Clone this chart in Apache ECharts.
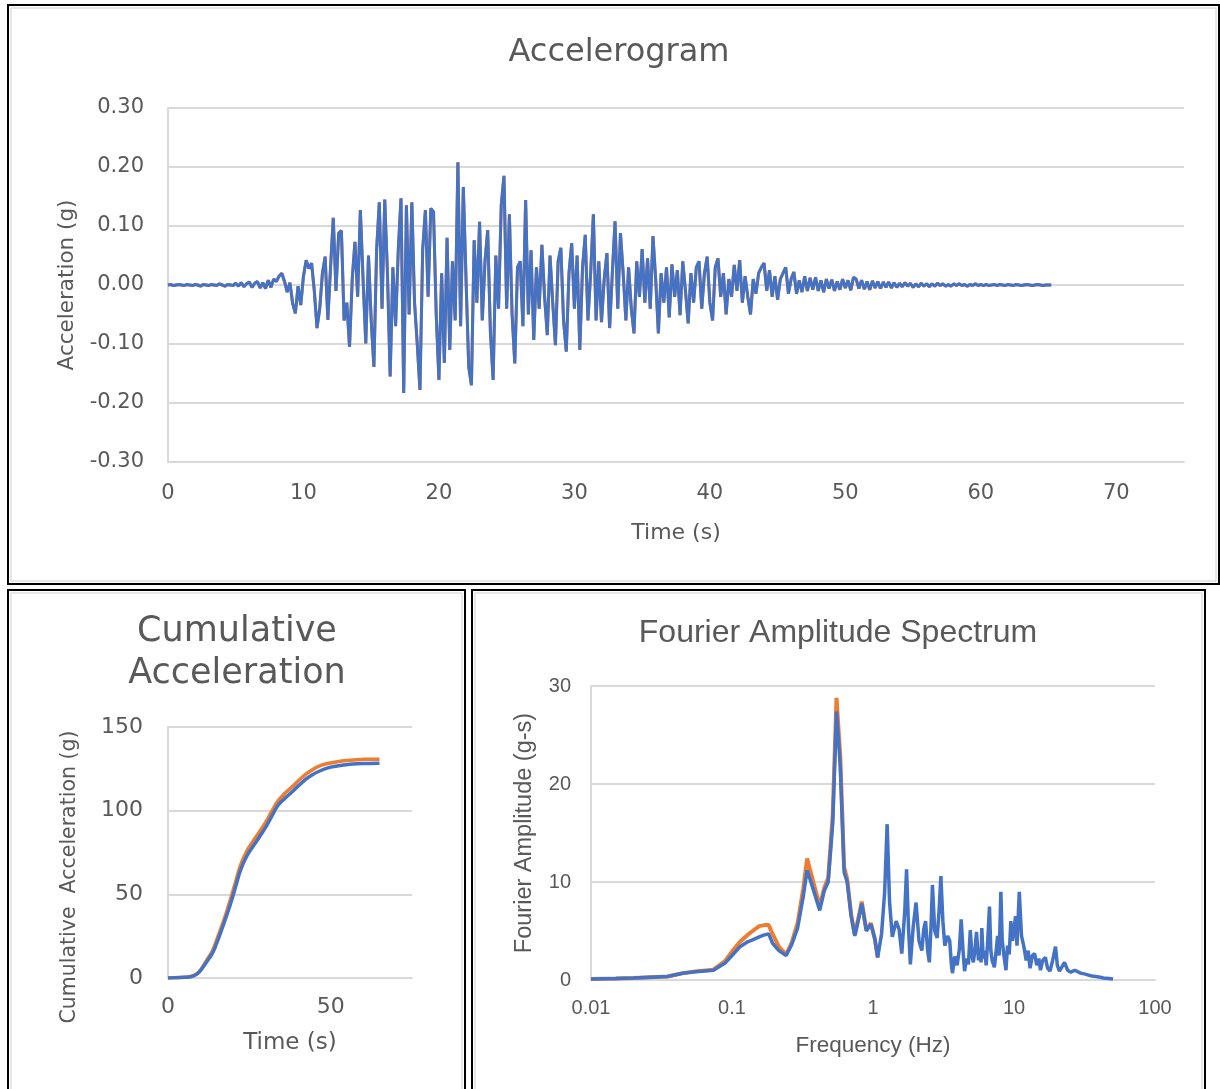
<!DOCTYPE html>
<html>
<head>
<meta charset="utf-8">
<title>Accelerogram</title>
<script src="https://cdn.jsdelivr.net/npm/echarts@6/dist/echarts.min.js"></script>
<style>
  html, body { margin: 0; padding: 0; background: #fff; }
  #chart { width: 1220px; height: 1089px; }
</style>
</head>
<body>
<div id="chart"></div>
<script>
// accelerogram, one sample every 0.2 s
const accelStep = 0.2;
const accelValues = [
  0.000, 0.001, -0.001, 0.000, 0.001,
  0.000, -0.001, 0.001, 0.000, -0.001,
  0.001, 0.000, -0.002, 0.001, 0.000,
  -0.001, 0.001, 0.000, -0.001, 0.002,
  0.000, -0.002, 0.001, 0.000, -0.001,
  0.003, -0.002, 0.004, -0.003, 0.002,
  0.005, -0.004, 0.003, 0.006, -0.005,
  0.004, -0.006, 0.008, -0.004, 0.010,
  0.006, 0.015, 0.020, 0.006, -0.012,
  0.004, -0.031, -0.048, -0.002, -0.034,
  0.015, 0.042, 0.028, 0.037, -0.010,
  -0.073, -0.040, 0.020, 0.048, -0.059,
  0.030, 0.114, -0.010, 0.088, 0.092,
  -0.060, -0.030, -0.105, 0.010, 0.073,
  -0.020, 0.127, 0.010, -0.099, 0.050,
  -0.060, -0.139, 0.060, 0.140, -0.040,
  0.145, 0.020, -0.155, 0.030, -0.070,
  0.060, 0.147, -0.183, 0.135, -0.050,
  0.140, -0.030, -0.100, -0.178, 0.060,
  0.127, -0.020, 0.130, 0.124, -0.050,
  -0.161, 0.020, -0.132, 0.080, -0.110,
  0.040, -0.060, 0.208, -0.070, 0.166,
  0.010, -0.139, -0.170, 0.076, -0.030,
  0.107, -0.060, 0.040, 0.093, -0.080,
  -0.161, 0.050, -0.040, 0.135, 0.185,
  -0.040, 0.120, -0.050, -0.133, 0.030,
  0.040, -0.070, 0.144, -0.050, 0.059,
  -0.093, 0.030, -0.040, 0.068, -0.020,
  -0.085, 0.050, -0.030, -0.102, 0.040,
  0.063, -0.060, -0.113, 0.020, 0.071,
  -0.040, 0.050, -0.110, 0.030, 0.085,
  -0.060, 0.020, 0.120, -0.060, 0.040,
  -0.063, 0.010, 0.054, -0.073, 0.020,
  0.108, -0.040, 0.088, 0.020, -0.060,
  0.030, -0.040, -0.082, 0.040, -0.020,
  0.061, -0.030, 0.045, -0.040, 0.083,
  0.010, -0.082, 0.020, -0.030, 0.030,
  -0.055, 0.035, -0.020, 0.025, -0.051,
  0.040, -0.010, -0.065, 0.020, -0.030,
  0.030, 0.040, -0.040, 0.020, 0.048,
  -0.030, -0.060, 0.030, 0.045, -0.020,
  0.020, -0.050, 0.010, -0.020, 0.034,
  -0.010, 0.042, -0.030, 0.015, -0.020,
  -0.050, 0.010, -0.015, 0.020, 0.030,
  0.037, -0.010, 0.025, -0.020, 0.015,
  -0.025, 0.010, 0.020, 0.030, -0.015,
  0.010, 0.022, -0.015, 0.008, -0.012,
  0.015, -0.010, 0.012, -0.008, 0.013,
  -0.010, 0.008, -0.012, 0.010, -0.006,
  0.009, -0.010, 0.006, -0.008, 0.010,
  -0.005, 0.008, -0.009, 0.013, 0.010,
  -0.006, 0.008, -0.007, 0.006, -0.008,
  0.007, -0.005, 0.006, -0.006, 0.005,
  -0.004, 0.005, -0.005, 0.004, -0.004,
  0.003, -0.003, 0.004, -0.002, 0.003,
  -0.004, 0.002, -0.003, 0.003, -0.002,
  0.002, -0.003, 0.002, -0.002, 0.003,
  -0.001, 0.002, -0.002, 0.001, -0.002,
  0.002, -0.001, 0.002, -0.001, 0.001,
  -0.002, 0.001, -0.001, 0.002, -0.001,
  0.001, -0.001, 0.001, -0.001, 0.000,
  0.001, -0.001, 0.001, 0.000, -0.001,
  0.001, 0.000, -0.001, 0.001, 0.000,
  -0.001, 0.000, 0.001, 0.000, -0.001,
  0.000, 0.001, 0.000, -0.001, 0.000,
  0.000, 0.000
];

// cumulative acceleration
const cumTime = [0, 4, 7, 9, 10.6, 12, 13.7, 15, 16.8, 18.5, 19.8, 21, 22.3, 24, 25.9, 28, 30, 32, 33.9, 36, 38, 41, 44, 47, 50, 54, 58, 62, 65];
const cumBlue = [0, 0.3, 0.8, 2.5, 6, 10, 15, 21, 30.5, 40, 48, 56, 64.5, 72, 78, 84, 90, 97, 103.4, 107.5, 111, 116.5, 121, 124, 126, 127.3, 128, 128.2, 128.3];
const cumOrange = [0, 0.3, 0.9, 2.8, 6.5, 11, 16.5, 23, 32.5, 42.5, 51, 59, 67.5, 75, 81, 87, 93, 100, 106, 110.5, 114, 119.5, 124, 127, 128.5, 129.8, 130.5, 130.7, 130.8];

// fourier amplitude spectrum
const fasFreq = [
  0.010, 0.015, 0.020, 0.0349, 0.0448, 0.055, 0.0738, 0.0889, 0.100, 0.114,
  0.129, 0.140, 0.156, 0.170, 0.182, 0.194, 0.215, 0.242, 0.265, 0.292,
  0.320, 0.341, 0.374, 0.419, 0.451, 0.481, 0.518, 0.551, 0.586, 0.624,
  0.656, 0.700, 0.743, 0.790, 0.832, 0.897, 0.966, 1.030, 1.080, 1.150,
  1.210, 1.260, 1.310, 1.370, 1.460, 1.530, 1.600, 1.680, 1.730, 1.790,
  1.840, 1.930, 2.020, 2.120, 2.220, 2.290, 2.360, 2.440, 2.510, 2.580,
  2.640, 2.740, 2.850, 2.940, 3.030, 3.130, 3.230, 3.380, 3.500, 3.600,
  3.660, 3.800, 3.950, 4.100, 4.220, 4.350, 4.460, 4.600, 4.750, 4.900,
  5.030, 5.150, 5.280, 5.420, 5.600, 5.700, 5.840, 5.910, 6.050, 6.200,
  6.350, 6.500, 6.700, 6.850, 7.000, 7.260, 7.450, 7.650, 7.850, 8.070,
  8.250, 8.500, 8.770, 9.000, 9.250, 9.500, 9.750, 10.00, 10.25, 10.50,
  10.90, 11.30, 11.75, 12.20, 12.60, 13.00, 13.50, 14.00, 14.50, 15.00,
  15.40, 16.00, 16.70, 17.30, 18.00, 18.80, 19.70, 20.30, 21.00, 22.00,
  22.80, 24.00, 25.30, 27.00, 29.70, 32.00, 35.70, 40.00, 43.10, 47.00,
  50.40
];
const fasBlue = [
  0.10, 0.15, 0.20, 0.35, 0.68, 0.85, 1.00, 1.70, 2.50, 3.40,
  3.90, 4.10, 4.40, 4.60, 4.70, 3.75, 3.00, 2.50, 3.60, 5.30,
  8.50, 11.20, 9.40, 7.10, 9.10, 10.00, 16.00, 27.40, 21.80, 11.00,
  10.00, 6.50, 4.50, 6.20, 7.80, 5.00, 5.70, 4.20, 2.30, 4.70,
  9.00, 15.90, 8.00, 4.40, 6.00, 5.20, 2.70, 7.00, 11.30, 5.00,
  1.60, 5.50, 7.90, 4.00, 3.00, 5.20, 6.00, 3.00, 1.80, 5.50,
  9.70, 5.00, 4.30, 7.00, 10.60, 6.00, 3.50, 4.50, 4.00, 1.50,
  0.70, 2.40, 1.50, 3.20, 6.20, 3.00, 0.90, 2.20, 1.60, 5.10,
  2.50, 1.80, 3.00, 4.90, 2.00, 3.20, 1.80, 5.30, 2.20, 3.00,
  1.50, 3.80, 7.50, 3.00, 2.00, 1.30, 2.80, 4.50, 2.50, 9.00,
  4.00, 2.40, 1.00, 3.50, 2.60, 6.00, 4.00, 5.00, 6.50, 3.50,
  9.00, 4.50, 3.40, 2.00, 3.00, 1.20, 2.50, 2.70, 1.50, 2.20,
  1.00, 2.00, 2.30, 1.20, 0.90, 2.00, 3.40, 1.50, 0.90, 1.40,
  1.80, 1.00, 0.80, 1.00, 0.70, 0.60, 0.40, 0.30, 0.20, 0.15,
  0.10
];
// second record only differs visibly below ~1 Hz
const fasOrangeFreq = [
  0.010, 0.015, 0.020, 0.0349, 0.0448, 0.055, 0.0738, 0.0889, 0.100, 0.114,
  0.129, 0.140, 0.156, 0.170, 0.182, 0.194, 0.215, 0.242, 0.265, 0.292,
  0.320, 0.341, 0.374, 0.419, 0.451, 0.481, 0.518, 0.551, 0.586, 0.624,
  0.656, 0.700, 0.743, 0.790, 0.832, 0.897, 0.966, 1.030, 1.080
];
const fasOrange = [
  0.10, 0.15, 0.20, 0.35, 0.70, 0.88, 1.05, 1.90, 2.90, 3.90,
  4.60, 5.00, 5.50, 5.60, 5.60, 4.70, 3.40, 2.60, 3.80, 5.80,
  9.30, 12.40, 10.20, 7.50, 9.40, 10.40, 16.80, 28.80, 22.80, 11.50,
  10.30, 6.70, 4.60, 6.40, 8.00, 5.10, 5.80, 4.20, 2.30
];

const BLUE = "#4472C4";
const ORANGE = "#ED7D31";
const TEXT = "#595959";
const GRID = "#D9D9D9";
const WIDE = "DejaVu Sans";
const NARROW = "Liberation Sans";

var echart = echarts.init(document.getElementById("chart"));

const accelData = accelValues.map((v, i) => [+(i * accelStep).toFixed(1), v]);

function valueAxis(extra) {
  return Object.assign({
    type: "value",
    axisTick: { show: false },
    axisLine: { show: true, onZero: false, lineStyle: { color: GRID, width: 2 } },
    splitLine: { show: false },
  }, extra);
}

const option = {
  animation: false,
  backgroundColor: "#fff",
  grid: [
    { left: 168, top: 108, width: 1016, height: 354 },
    { left: 168, top: 727, width: 244, height: 251 },
    { left: 591, top: 686, width: 564, height: 294 },
  ],
  xAxis: [
    valueAxis({
      gridIndex: 0, min: 0, max: 75, interval: 10,
      axisLabel: { showMaxLabel: false, margin: 21, fontSize: 21, fontFamily: WIDE, color: TEXT },
      name: "Time (s)", nameLocation: "middle", nameGap: 60,
      nameTextStyle: { fontSize: 22, fontFamily: WIDE, color: TEXT },
    }),
    valueAxis({
      gridIndex: 1, min: 0, max: 75, interval: 50,
      axisLabel: { showMaxLabel: false, margin: 18, fontSize: 22, fontFamily: WIDE, color: TEXT },
      name: "Time (s)", nameLocation: "middle", nameGap: 54,
      nameTextStyle: { fontSize: 23, fontFamily: WIDE, color: TEXT },
    }),
    {
      type: "log", gridIndex: 2, min: 0.01, max: 100, logBase: 10,
      axisTick: { show: false },
      axisLine: { show: true, onZero: false, lineStyle: { color: GRID, width: 2 } },
      splitLine: { show: false },
      axisLabel: { margin: 18, fontSize: 20, fontFamily: NARROW, color: TEXT },
      name: "Frequency (Hz)", nameLocation: "middle", nameGap: 54,
      nameTextStyle: { fontSize: 22.5, fontFamily: NARROW, color: TEXT },
    },
  ],
  yAxis: [
    valueAxis({
      gridIndex: 0, min: -0.3, max: 0.3, interval: 0.1,
      splitLine: { show: true, lineStyle: { color: GRID, width: 2 } },
      axisLabel: {
        margin: 24, fontSize: 21, fontFamily: WIDE, color: TEXT,
        formatter: (v) => (Math.abs(v) < 1e-9 ? "0.00" : v.toFixed(2)),
      },
      name: "Acceleration (g)", nameLocation: "middle", nameGap: 90,
      nameTextStyle: { fontSize: 21.5, fontFamily: WIDE, color: TEXT },
    }),
    valueAxis({
      gridIndex: 1, min: 0, max: 150, interval: 50,
      splitLine: { show: true, lineStyle: { color: GRID, width: 2 } },
      axisLabel: { margin: 25, fontSize: 22, fontFamily: WIDE, color: TEXT },
    }),
    valueAxis({
      gridIndex: 2, min: 0, max: 30, interval: 10,
      splitLine: { show: true, lineStyle: { color: GRID, width: 2 } },
      axisLabel: { margin: 20, fontSize: 20, fontFamily: NARROW, color: TEXT },
      name: "Fourier Amplitude (g-s)", nameLocation: "middle", nameGap: 54,
      nameTextStyle: { fontSize: 23.5, fontFamily: NARROW, color: TEXT },
    }),
  ],
  series: [
    {
      type: "line", xAxisIndex: 0, yAxisIndex: 0, showSymbol: false,
      data: accelData, lineStyle: { color: ORANGE, width: 3 },
    },
    {
      type: "line", xAxisIndex: 0, yAxisIndex: 0, showSymbol: false,
      data: accelData, lineStyle: { color: BLUE, width: 3 },
    },
    {
      type: "line", xAxisIndex: 1, yAxisIndex: 1, showSymbol: false, smooth: true,
      data: cumTime.map((t, i) => [t, cumOrange[i]]), lineStyle: { color: ORANGE, width: 3.5 },
    },
    {
      type: "line", xAxisIndex: 1, yAxisIndex: 1, showSymbol: false, smooth: true,
      data: cumTime.map((t, i) => [t, cumBlue[i]]), lineStyle: { color: BLUE, width: 3.5 },
    },
    {
      type: "line", xAxisIndex: 2, yAxisIndex: 2, showSymbol: false,
      data: fasOrangeFreq.map((f, i) => [f, fasOrange[i]]), lineStyle: { color: ORANGE, width: 4 },
    },
    {
      type: "line", xAxisIndex: 2, yAxisIndex: 2, showSymbol: false,
      data: fasFreq.map((f, i) => [f, fasBlue[i]]), lineStyle: { color: BLUE, width: 3.5 },
    },
  ],
  graphic: [
    // panel frames
    { type: "rect", silent: true, shape: { x: 8, y: 5, width: 1211, height: 579 }, style: { fill: "none", stroke: "#000", lineWidth: 2 } },
    { type: "rect", silent: true, shape: { x: 11, y: 8, width: 1205, height: 573 }, style: { fill: "none", stroke: "#D0D0D0", lineWidth: 1 } },
    { type: "rect", silent: true, shape: { x: 8, y: 590, width: 457, height: 510 }, style: { fill: "none", stroke: "#000", lineWidth: 2 } },
    { type: "rect", silent: true, shape: { x: 11, y: 593, width: 451, height: 510 }, style: { fill: "none", stroke: "#D0D0D0", lineWidth: 1 } },
    { type: "rect", silent: true, shape: { x: 472, y: 590, width: 733, height: 510 }, style: { fill: "none", stroke: "#000", lineWidth: 2 } },
    { type: "rect", silent: true, shape: { x: 475, y: 593, width: 727, height: 510 }, style: { fill: "none", stroke: "#D0D0D0", lineWidth: 1 } },
    // titles
    { type: "text", x: 619, y: 53, style: { text: "Accelerogram", font: "32px 'DejaVu Sans'", fill: TEXT, align: "center", verticalAlign: "middle" } },
    { type: "text", x: 237, y: 653, style: { text: "Cumulative\nAcceleration", font: "35px 'DejaVu Sans'", lineHeight: 42, fill: TEXT, align: "center", verticalAlign: "middle" } },
    { type: "text", x: 838, y: 633, style: { text: "Fourier Amplitude Spectrum", font: "32px 'Liberation Sans'", fill: TEXT, align: "center", verticalAlign: "middle" } },
    // y title of the cumulative panel sits lower than the plot centre
    { type: "text", x: 70, y: 877, rotation: Math.PI / 2, style: { text: "Cumulative  Acceleration (g)", font: "20.5px 'DejaVu Sans'", fill: TEXT, align: "center", verticalAlign: "middle" } },
  ],
};

echart.setOption(option);
</script>
</body>
</html>
